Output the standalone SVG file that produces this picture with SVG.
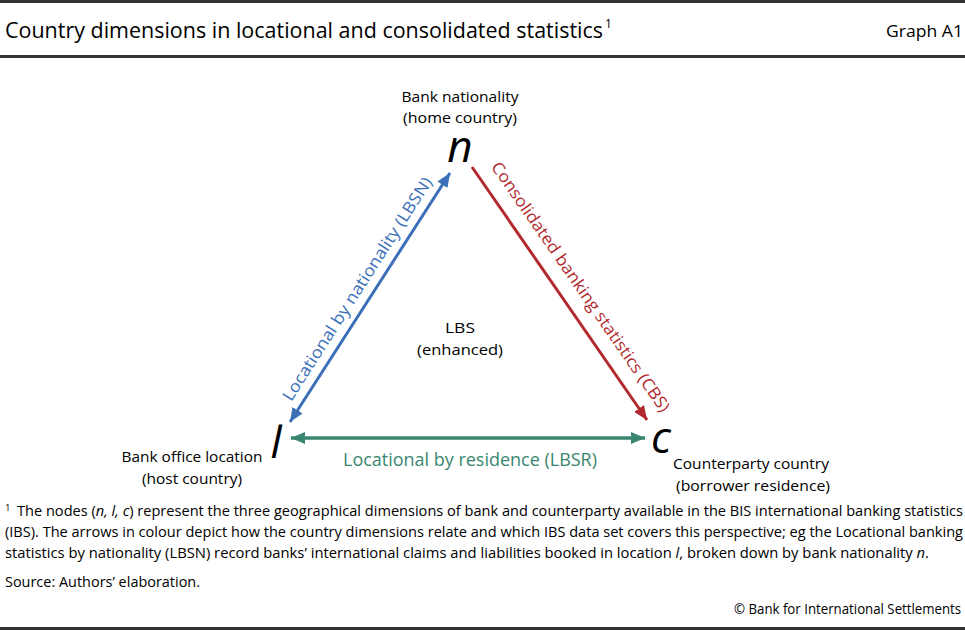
<svg xmlns="http://www.w3.org/2000/svg" width="965" height="630" viewBox="0 0 965 630">
<style>
text{font-family:"Open Sans","Noto Sans","DejaVu Sans",sans-serif;fill:#000}
.lbl{font-size:15px}
.var{font-size:44px;font-style:italic;font-family:"Open Sans","Noto Sans",sans-serif}
.fn{font-size:14.5px}
.al{font-size:16.5px}
.rule{stroke:#333;stroke-width:3}
</style>
<defs>
<marker id="ab" viewBox="0 0 14 12" refX="14" refY="6" markerWidth="14" markerHeight="12" markerUnits="userSpaceOnUse" orient="auto-start-reverse"><path d="M0,0L14,6L0,12z" fill="#3B70B8"/></marker>
<marker id="ar" viewBox="0 0 14 12" refX="14" refY="6" markerWidth="14" markerHeight="12" markerUnits="userSpaceOnUse" orient="auto-start-reverse"><path d="M0,0L14,6L0,12z" fill="#B22A2E"/></marker>
<marker id="ag" viewBox="0 0 14 12" refX="14" refY="6" markerWidth="14" markerHeight="12" markerUnits="userSpaceOnUse" orient="auto-start-reverse"><path d="M0,0L14,6L0,12z" fill="#3A8670"/></marker>
</defs>
<line class="rule" x1="0" y1="1.5" x2="965" y2="1.5"/>
<text x="5" y="38" style="font-size:21px" textLength="598" lengthAdjust="spacingAndGlyphs">Country dimensions in locational and consolidated statistics</text>
<text x="605" y="28" style="font-size:12px">1</text>
<text x="886" y="37" style="font-size:17px" textLength="77" lengthAdjust="spacingAndGlyphs">Graph A1</text>
<line class="rule" x1="0" y1="56.5" x2="965" y2="56.5"/>

<g id="connectors">
<line x1="450" y1="173" x2="290" y2="422" stroke="#3B70B8" stroke-width="3" marker-start="url(#ab)" marker-end="url(#ab)"/>
<line x1="472" y1="167" x2="647" y2="420" stroke="#B22A2E" stroke-width="3" marker-end="url(#ar)"/>
<line x1="291" y1="438" x2="645" y2="438" stroke="#3A8670" stroke-width="3.5" marker-start="url(#ag)" marker-end="url(#ag)"/>
<text class="al" x="0" y="0" text-anchor="middle" transform="translate(362,292) rotate(-57.3)" style="fill:#3B70B8" textLength="262" lengthAdjust="spacingAndGlyphs">Locational by nationality (LBSN)</text>
<text class="al" x="0" y="0" text-anchor="middle" transform="translate(576,290) rotate(55.3)" style="fill:#B22A2E" textLength="300" lengthAdjust="spacingAndGlyphs">Consolidated banking statistics (CBS)</text>
<text class="al" x="470" y="466" text-anchor="middle" style="fill:#3A8670;font-size:17.5px" textLength="254" lengthAdjust="spacingAndGlyphs">Locational by residence (LBSR)</text>
</g>

<g id="node-n">
<text class="lbl" x="460" y="102" text-anchor="middle" textLength="117" lengthAdjust="spacingAndGlyphs">Bank nationality</text>
<text class="lbl" x="460" y="123" text-anchor="middle" textLength="114" lengthAdjust="spacingAndGlyphs">(home country)</text>
<text class="var" x="460" y="162" text-anchor="middle">n</text>
</g>
<g id="node-l">
<text class="lbl" x="192" y="462" text-anchor="middle" textLength="141" lengthAdjust="spacingAndGlyphs">Bank office location</text>
<text class="lbl" x="192" y="484" text-anchor="middle" textLength="100" lengthAdjust="spacingAndGlyphs">(host country)</text>
<text class="var" x="276" y="458" text-anchor="middle">l</text>
</g>
<g id="node-c">
<text class="var" x="661" y="453" text-anchor="middle">c</text>
<text class="lbl" x="751" y="469" text-anchor="middle" textLength="156" lengthAdjust="spacingAndGlyphs">Counterparty country</text>
<text class="lbl" x="753" y="491" text-anchor="middle" textLength="154" lengthAdjust="spacingAndGlyphs">(borrower residence)</text>
</g>
<g id="center">
<text class="lbl" x="460" y="333" text-anchor="middle" textLength="30" lengthAdjust="spacingAndGlyphs">LBS</text>
<text class="lbl" x="460" y="355" text-anchor="middle" textLength="86" lengthAdjust="spacingAndGlyphs">(enhanced)</text>
</g>

<text x="5" y="511" style="font-size:9.5px">1</text>
<text class="fn" x="17" y="516" textLength="946" lengthAdjust="spacingAndGlyphs">The nodes (<tspan font-style="italic">n, l, c</tspan>) represent the three geographical dimensions of bank and counterparty available in the BIS international banking statistics</text>
<text class="fn" x="5" y="537" textLength="958" lengthAdjust="spacingAndGlyphs">(IBS). The arrows in colour depict how the country dimensions relate and which IBS data set covers this perspective; eg the Locational banking</text>
<text class="fn" x="5" y="558" textLength="924" lengthAdjust="spacingAndGlyphs">statistics by nationality (LBSN) record banks’ international claims and liabilities booked in location <tspan font-style="italic">l</tspan>, broken down by bank nationality <tspan font-style="italic">n</tspan>.</text>
<text class="fn" x="5" y="587" textLength="195" lengthAdjust="spacingAndGlyphs">Source: Authors’ elaboration.</text>
<text class="fn" x="0" y="0" transform="translate(734,614) scale(0.915,1)">© Bank for International Settlements</text>
<line class="rule" x1="0" y1="628.5" x2="965" y2="628.5"/>
</svg>
